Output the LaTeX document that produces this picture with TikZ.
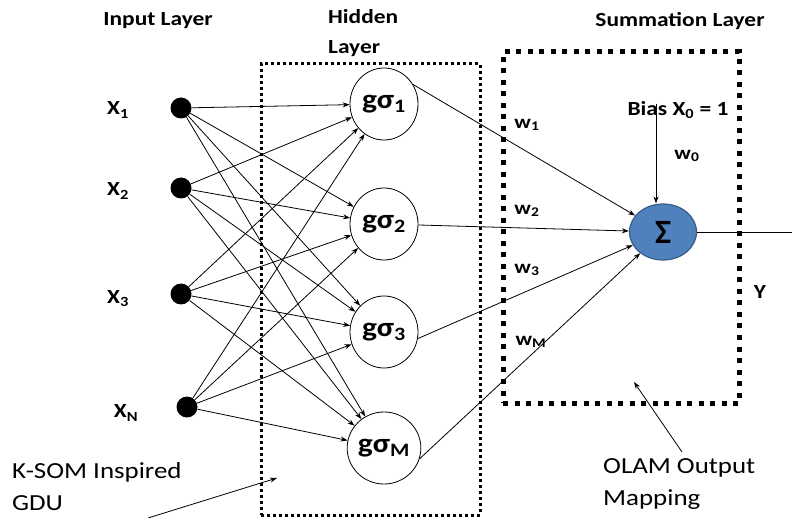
\documentclass[tikz,border=0pt]{standalone}
\usepackage{fontspec}
\setmainfont{Carlito}
\usetikzlibrary{arrows.meta,shapes.geometric}
\newcommand\wide[1]{\scalebox{1.17}[1]{#1}}
\definecolor{sumblue}{HTML}{4F81BD}
\definecolor{sumedge}{HTML}{385D8A}
\begin{document}
\begin{tikzpicture}[x=1pt,y=-1pt,
  inp/.style={circle,fill=black,minimum size=21pt,inner sep=0pt},
  hid/.style={ellipse,draw,line width=0.8pt,fill=white,minimum width=68pt,minimum height=72pt,inner sep=0pt,font=\fontsize{27}{30}\selectfont\bfseries},
  sumn/.style={ellipse,draw=sumedge,line width=1.2pt,fill=sumblue,minimum width=67pt,minimum height=56pt,inner sep=0pt,font=\fontsize{34}{36}\selectfont\bfseries},
  arr/.style={-{Stealth[length=7pt,width=5pt]},line width=0.8pt},
  lbl/.style={font=\fontsize{20}{22}\selectfont\bfseries,inner sep=0pt},
  wl/.style={font=\fontsize{19}{21}\selectfont\bfseries,inner sep=0pt},
  call/.style={font=\fontsize{23}{32}\selectfont,inner sep=0pt},
  hbox/.style={draw,line width=3pt,dash pattern=on 3pt off 3pt,inner sep=0pt},
  sbox/.style={draw,line width=5pt,dash pattern=on 5pt off 6.5pt,inner sep=0pt}]
\useasboundingbox (0,0) rectangle (792,518);

% boxes
\node[hbox,minimum width=219pt,minimum height=451pt] (hidbox) at (370.5,289.5) {};
\node[sbox,minimum width=236pt,minimum height=351pt] (sumbox) at (621,227.5) {};

% titles
\node[lbl] (tin) at (158,21) {\wide{Input Layer}};
\node[lbl,anchor=north west,align=left,font=\fontsize{20}{30}\selectfont\bfseries] (thid) at (328,9) {\wide{Hidden}\\\wide{Layer}};
\node[lbl] (tsum) at (680,21) {\wide{Summation Layer}};

% input nodes
\node[inp] (x1) at (181,108) {};
\node[inp] (x2) at (181,188) {};
\node[inp] (x3) at (181,294) {};
\node[inp] (xn) at (187,407) {};
\node[lbl] (lx1) at (118,110) {\wide{X\textsubscript{1}}};
\node[lbl] (lx2) at (118,191) {\wide{X\textsubscript{2}}};
\node[lbl] (lx3) at (118,299) {\wide{X\textsubscript{3}}};
\node[lbl] (lxn) at (126,413) {\wide{X\textsubscript{N}}};

% hidden nodes
\node[hid] (g1) at (384,104) {\wide{gσ\textsubscript{1}}};
\node[hid] (g2) at (384,224) {\wide{gσ\textsubscript{2}}};
\node[hid] (g3) at (384,332) {\wide{gσ\textsubscript{3}}};
\node[hid] (gm) at (384,448) {\wide{gσ\textsubscript{M}}};

% input -> hidden
\foreach \i in {x1,x2,x3,xn}{
  \foreach \j in {g1,g2,g3,gm}{
    \draw[arr] (\i) -- (\j);
  }
}

% summation node
\node[sumn] (sum) at (663,232) {Σ};

% hidden -> sum
\draw[arr] (g1.34) -- (sum);
\draw[arr] (g2) -- (sum);
\draw[arr] (g3.-11) -- (sum);
\draw[arr] (gm.-17) -- (sum);

% weights
\node[wl] (w1) at (527,125) {\wide{w\textsubscript{1}}};
\node[wl] (w2) at (527,211) {\wide{w\textsubscript{2}}};
\node[wl] (w3) at (527,270) {\wide{w\textsubscript{3}}};
\node[wl] (wm) at (531,342) {\wide{w\textsubscript{M}}};
\node[wl] (w0) at (687,156) {\wide{w\textsubscript{0}}};

% bias
\node[lbl] (bias) at (678,110) {\wide{Bias X\textsubscript{0} = 1}};
\coordinate (b0) at (656,104);
\draw[arr] (b0) -- (b0 |- sum.north);

% output
\coordinate (yend) at (792,232);
\draw[line width=0.8pt] (sum) -- (yend);
\node[lbl] (ly) at (760,292) {\wide{Y}};

% callouts
\node[call,anchor=west,align=left] (ksom) at (12,487) {\wide{K-SOM Inspired}\\\wide{GDU}};
\coordinate (k1) at (148,518);
\coordinate (k2) at (277,478);
\draw[arr] (k1) -- (k2);

\node[call,anchor=west,align=left] (olam) at (603,484) {\wide{OLAM Output}\\\wide{Mapping}};
\coordinate (o1) at (682,452);
\coordinate (o2) at (634,382);
\draw[arr] (o1) -- (o2);
\end{tikzpicture}
\end{document}
